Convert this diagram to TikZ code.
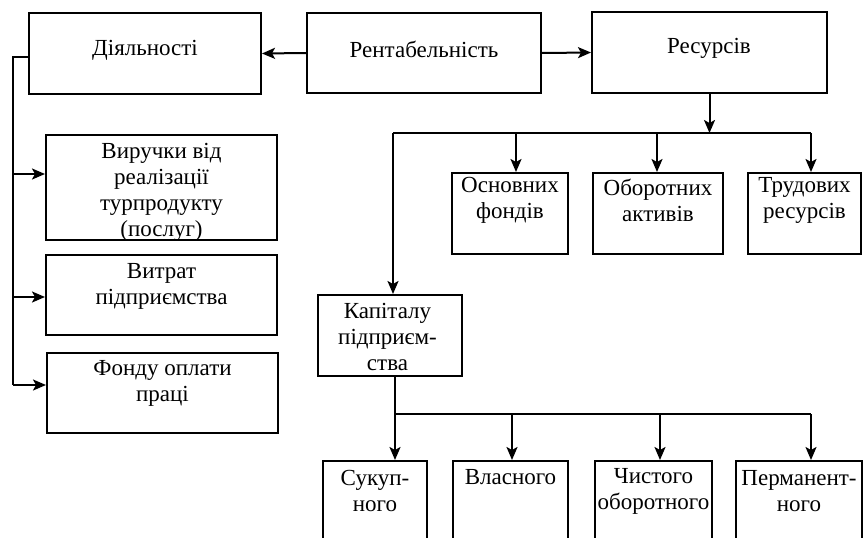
\documentclass[tikz,border=0pt]{standalone}
\usepackage{fontspec}
\setmainfont{Liberation Serif}
\usetikzlibrary{arrows.meta}
\tikzset{
  box/.style={draw, line width=2pt, inner sep=0pt},
  ln/.style={line width=2pt},
  arr/.style={line width=2pt, -{Stealth[length=13pt,width=11pt,inset=3pt]}},
  txt/.style={font=\fontsize{23}{26}\selectfont, align=center, inner sep=0pt}
}
\begin{document}
\begin{tikzpicture}[x=1pt,y=-1pt]
\useasboundingbox (0,0) rectangle (865,538);
\clip (0,0) rectangle (865,538);
% top row
\node[box, minimum width=232, minimum height=81] (dial) at (145,53.5) {};
\node[box, minimum width=234, minimum height=80] (rent) at (424,53) {};
\node[box, minimum width=235, minimum height=81] (res) at (709.5,52.5) {};
\node[txt] (tdial) at (145,50) {Діяльності};
\node[txt] (trent) at (424,49) {Рентабельність};
\node[txt] (tres) at (709,48) {Ресурсів};
% left column
\node[box, minimum width=231, minimum height=105] (vyr) at (161.5,187.5) {};
\node[box, minimum width=231, minimum height=80] (vytr) at (161.5,295) {};
\node[box, minimum width=231, minimum height=80] (fond) at (162.5,393) {};
\node[txt] (tvyr) at (161.5,192) {Виручки від\\реалізації\\турпродукту\\(послуг)};
\node[txt] (tvytr) at (161.5,286) {Витрат\\підприємства};
\node[txt] (tfond) at (162.5,383) {Фонду оплати\\праці};
% resources row
\node[box, minimum width=116, minimum height=81] (osn) at (510,213.5) {};
\node[box, minimum width=130, minimum height=81] (obor) at (658,213.5) {};
\node[box, minimum width=113, minimum height=81] (trud) at (804.5,213.5) {};
\node[txt] (tosn) at (510,200) {Основних\\фондів};
\node[txt] (tobor) at (658,200) {Оборотних\\активів};
\node[txt] (ttrud) at (804.5,200) {Трудових\\ресурсів};
% capital
\node[box, minimum width=144, minimum height=81] (kap) at (390,335.5) {};
\node[txt] (tkap) at (387.5,337) {Капіталу\\підприєм-\\ства};
% bottom row
\node[box, minimum width=104, minimum height=99] (suk) at (375,510.5) {};
\node[box, minimum width=115, minimum height=99] (vlas) at (510.5,510.5) {};
\node[box, minimum width=117, minimum height=99] (chyst) at (653.5,510.5) {};
\node[box, minimum width=126, minimum height=99] (perm) at (799,510.5) {};
\node[txt] (tsuk) at (375,491) {Сукуп-\\ного};
\node[txt] (tvlas) at (510.5,477) {Власного};
\node[txt] (tchyst) at (653.5,491) {Чистого\\оборотного};
\node[txt] (tperm) at (799,491) {Перманент-\\ного};
% top arrows
\draw[arr] (rent.west) -- (dial.east);
\draw[arr] (rent.east) -- (res.west);
% left trunk
\coordinate (lt) at (13,57);
\coordinate (lb) at (13,385);
\coordinate (a1) at (13,174);
\coordinate (a2) at (13,297);
\draw[ln] (dial.west |- lt) -- (lt) -- (lb);
\draw[arr] (a1) -- (a1 -| vyr.west);
\draw[arr] (a2) -- (a2 -| vytr.west);
\draw[arr] (lb) -- (lb -| fond.west);
% resources distribution
\coordinate (rj) at (709.5,133);
\coordinate (dl) at (393,133);
\coordinate (dr) at (811,133);
\coordinate (b1) at (516,133);
\coordinate (b2) at (657,133);
\draw[arr] (res.south) -- (rj);
\draw[ln] (dl) -- (dr);
\draw[arr] (b1) -- (b1 |- osn.north);
\draw[arr] (b2) -- (b2 |- obor.north);
\draw[arr] (dr) -- (dr |- trud.north);
\draw[arr] (dl) -- (dl |- kap.north);
% capital distribution
\coordinate (kb) at (395,414);
\coordinate (kr) at (811,414);
\coordinate (c2) at (512,414);
\coordinate (c3) at (660,414);
\draw[ln] (kb |- kap.south) -- (kb) -- (kr);
\draw[arr] (kb) -- (kb |- suk.north);
\draw[arr] (c2) -- (c2 |- vlas.north);
\draw[arr] (c3) -- (c3 |- chyst.north);
\draw[arr] (kr) -- (kr |- perm.north);
\end{tikzpicture}
\end{document}
